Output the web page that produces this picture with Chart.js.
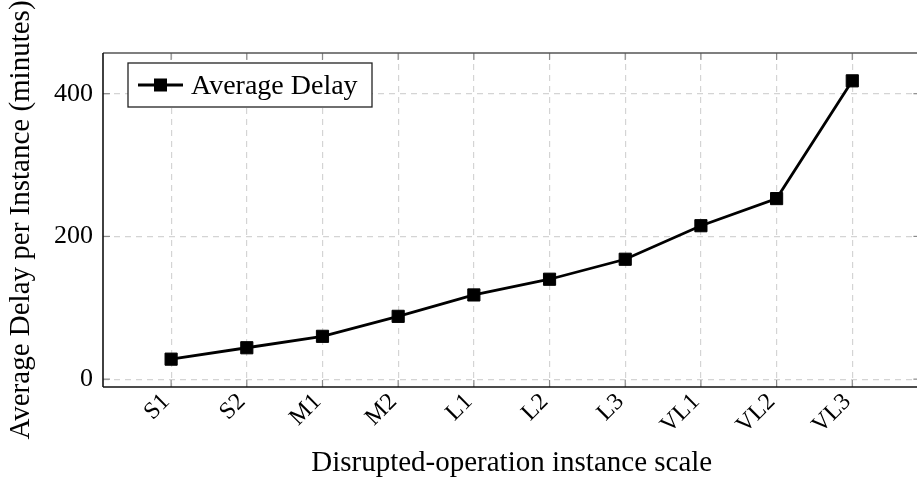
<!DOCTYPE html>
<html>
<head>
<meta charset="utf-8">
<script src="https://cdn.jsdelivr.net/npm/chart.js@4/dist/chart.umd.min.js"></script>
<style>
  html, body { margin: 0; padding: 0; background: #fff; overflow: hidden; width: 917px; height: 481px; }
  #wrap { width: 930px; height: 481px; }
</style>
</head>
<body>
<div id="wrap"><canvas id="c" width="930" height="481"></canvas></div>
<script>
const categories = ['S1', 'S2', 'M1', 'M2', 'L1', 'L2', 'L3', 'VL1', 'VL2', 'VL3'];
const averageDelay = [28, 44, 60, 88, 118, 140, 168, 215, 253, 418];
const yTicks = [0, 200, 400];
const seriesLabel = 'Average Delay';
const xTitle = 'Disrupted-operation instance scale';
const yTitle = 'Average Delay per Instance (minutes)';

const FONT = '"Liberation Serif", "Times New Roman", serif';

const points = categories.map((c, i) => ({ x: i, y: averageDelay[i] }));

const framePlugin = {
  id: 'frame',
  beforeDatasetsDraw(chart) {
    const { ctx, chartArea: a, scales: { x, y } } = chart;
    ctx.save();
    ctx.setLineDash([]);
    ctx.strokeStyle = '#8a8a8a';
    ctx.lineWidth = 1.2;
    const L = 7;
    const seg = (x1, y1, x2, y2) => { ctx.beginPath(); ctx.moveTo(x1, y1); ctx.lineTo(x2, y2); ctx.stroke(); };
    x.ticks.forEach(t => {
      const px = x.getPixelForValue(t.value);
      seg(px, a.top, px, a.top + L);
      seg(px, a.bottom, px, a.bottom - L);
    });
    y.ticks.forEach(t => {
      const py = y.getPixelForValue(t.value);
      seg(a.left, py, a.left + L, py);
      seg(a.right, py, a.right - L, py);
    });
    ctx.lineWidth = 1.6;
    ctx.strokeStyle = '#555555';
    seg(a.left, a.top, a.right, a.top);
    seg(a.right, a.top, a.right, a.bottom);
    ctx.strokeStyle = '#111111';
    seg(a.left, a.top, a.left, a.bottom);
    seg(a.left, a.bottom, a.right, a.bottom);
    ctx.restore();
  },
  afterDraw(chart) {
    const { ctx, chartArea: a } = chart;
    const ds = chart.data.datasets[0];
    const bx = a.left + 25, by = a.top + 10, bw = 244, bh = 44;
    ctx.save();
    ctx.fillStyle = '#fff';
    ctx.fillRect(bx, by, bw, bh);
    ctx.strokeStyle = '#222';
    ctx.lineWidth = 1.3;
    ctx.strokeRect(bx, by, bw, bh);
    const cy = by + bh / 2;
    ctx.strokeStyle = '#000';
    ctx.lineWidth = 2.8;
    ctx.beginPath(); ctx.moveTo(bx + 10, cy); ctx.lineTo(bx + 55, cy); ctx.stroke();
    ctx.fillStyle = '#000';
    ctx.fillRect(bx + 32.5 - 6.5, cy - 6.5, 13, 13);
    ctx.font = '28px ' + FONT;
    ctx.textBaseline = 'alphabetic';
    ctx.textAlign = 'left';
    ctx.fillText(ds.label, bx + 63, by + 31);
    ctx.restore();
  }
};

new Chart(document.getElementById('c'), {
  type: 'line',
  data: {
    datasets: [{
      label: seriesLabel,
      data: points,
      borderColor: '#000',
      backgroundColor: '#000',
      borderWidth: 2.8,
      tension: 0,
      pointStyle: 'rect',
      pointRadius: 8.6,
      pointBorderWidth: 1,
      pointBackgroundColor: '#000',
      pointBorderColor: '#000',
      clip: false
    }]
  },
  options: {
    responsive: false,
    animation: false,
    devicePixelRatio: 1,
    layout: { padding: { left: 0, top: 53, right: 7, bottom: 0 } },
    plugins: { legend: { display: false }, tooltip: { enabled: false } },
    scales: {
      x: {
        type: 'linear',
        min: -0.9,
        max: 9.9,
        afterFit(scale) { scale.height = 94; },
        afterBuildTicks(scale) { scale.ticks = categories.map((c, i) => ({ value: i })); },
        ticks: {
          autoSkip: false,
          maxRotation: 45,
          minRotation: 45,
          padding: 1,
          labelOffset: -5,
          color: '#000',
          font: { family: FONT, size: 24 },
          callback: (v) => categories[v]
        },
        grid: { color: '#d4d4d4', lineWidth: 1.2, drawTicks: false },
        border: { display: false, dash: [6, 5] },
        title: {
          display: true,
          text: xTitle,
          color: '#000',
          font: { family: FONT, size: 29 },
          padding: { top: 0, bottom: 0 }
        }
      },
      y: {
        type: 'linear',
        min: -11,
        max: 457,
        afterFit(scale) { scale.width = 103; },
        afterBuildTicks(scale) { scale.ticks = yTicks.map(v => ({ value: v })); },
        ticks: {
          padding: 10,
          color: '#000',
          font: { family: FONT, size: 26 }
        },
        grid: { color: '#d4d4d4', lineWidth: 1.2, drawTicks: false },
        border: { display: false, dash: [6, 5] },
        title: {
          display: true,
          text: yTitle,
          color: '#000',
          font: { family: FONT, size: 29 },
          padding: { top: 4, bottom: 0 }
        }
      }
    }
  },
  plugins: [framePlugin]
});
</script>
</body>
</html>
